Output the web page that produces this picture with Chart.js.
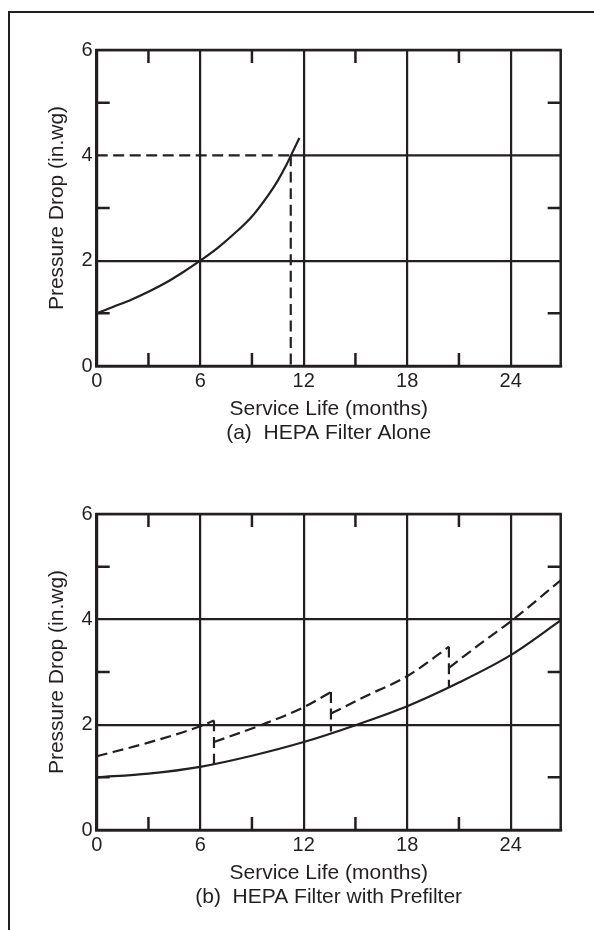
<!DOCTYPE html>
<html lang="en">
<head>
  <meta charset="UTF-8">
  <title>HEPA Filter Pressure Drop</title>
  <script src="https://cdn.jsdelivr.net/npm/chart.js"></script>
  <style>
    body {
      margin: 0;
      background: #fff;
      width: 594px;
      height: 930px;
      overflow: hidden;
      position: relative;
    }
    /* left and top edge of the page frame */
    .frame {
      position: absolute;
      left: 8px;
      top: 11px;
      width: 620px;
      height: 960px;
      border-left: 2.5px solid #231f20;
      border-top: 2px solid #231f20;
    }
    canvas {
      position: absolute;
      left: 0;
    }
    #chartA { top: 0; }
    #chartB { top: 464px; }
  </style>
</head>
<body>
<div class="frame"></div>
<canvas id="chartA" width="594" height="464"></canvas>
<canvas id="chartB" width="594" height="464"></canvas>

<script>
  // Axis ticks
  const monthTicks = [0, 6, 12, 18, 24];
  const dropTicks = [0, 2, 4, 6];
  const minorMonths = [3, 9, 15, 21];
  const minorDrops = [1, 3, 5];

  // (a) HEPA filter alone
  const aMonths = [0, 1, 2, 3, 4, 5, 6, 7, 8, 9, 10, 10.5, 11, 11.25, 11.75];
  const aDrop = [1.0, 1.13, 1.26, 1.41, 1.58, 1.78, 2.0, 2.24, 2.52, 2.84, 3.27, 3.52, 3.82, 3.99, 4.33];
  // change-out limit (dashed) and the rest of the 4 in.wg line
  const limitMonths = [0, 11.25];
  const limitDrop = [4, 4];
  const changeMonths = [11.25, 11.25];
  const changeDrop = [4, 0];
  const restMonths = [11.25, 26.9];
  const restDrop = [4, 4];

  // (b) HEPA filter with prefilter
  const hepaMonths = [0, 3, 6, 9, 12, 15, 18, 21, 24, 26.9];
  const hepaDrop = [1.0, 1.07, 1.2, 1.41, 1.67, 1.99, 2.35, 2.8, 3.32, 3.98];
  // total drop, one list per prefilter
  const pre1Months = [0, 3, 6, 6.8];
  const pre1Drop = [1.40, 1.66, 1.97, 2.08];
  const pre2Months = [6.8, 9.5, 12, 13.58];
  const pre2Drop = [1.67, 1.99, 2.33, 2.62];
  const pre3Months = [13.58, 15.65, 18, 20.42];
  const pre3Drop = [2.21, 2.55, 2.92, 3.48];
  const pre4Months = [20.42, 22.5, 24, 26.9];
  const pre4Drop = [3.08, 3.6, 3.96, 4.74];
  // prefilter change-outs
  const swapMonths = [6.8, 13.58, 20.42];
  const swapTop = [2.08, 2.62, 3.48];
  const swapBottom = [1.25, 1.87, 2.72];

  const ink = '#231f20';
  const dash = [11, 5.5];
  const fontFamily = "'Liberation Sans', Arial, Helvetica, sans-serif";

  function pts(xs, ys) {
    return xs.map((x, i) => ({ x: x, y: ys[i] }));
  }

  function line(xs, ys, dashed) {
    return {
      data: pts(xs, ys),
      borderColor: ink,
      borderWidth: 2.2,
      borderDash: dashed ? dash : [],
      pointRadius: 0,
      fill: false,
      cubicInterpolationMode: 'monotone'
    };
  }

  // box round the plot and the short inner tick marks
  const innerTicks = {
    id: 'innerTicks',
    afterDraw(chart) {
      const { ctx, chartArea: a, scales: { x, y } } = chart;
      const len = 13;
      ctx.save();
      ctx.strokeStyle = ink;
      ctx.lineWidth = 2.5;
      ctx.strokeRect(a.left, a.top, a.right - a.left, a.bottom - a.top);
      ctx.beginPath();
      minorMonths.forEach(m => {
        const px = x.getPixelForValue(m);
        ctx.moveTo(px, a.top); ctx.lineTo(px, a.top + len);
        ctx.moveTo(px, a.bottom); ctx.lineTo(px, a.bottom - len);
      });
      minorDrops.forEach(d => {
        const py = y.getPixelForValue(d);
        ctx.moveTo(a.left, py); ctx.lineTo(a.left + len, py);
        ctx.moveTo(a.right, py); ctx.lineTo(a.right - len, py);
      });
      ctx.stroke();
      ctx.restore();
    }
  };

  function makeChart(id, datasets, caption, hideY4) {
    return new Chart(document.getElementById(id), {
      type: 'line',
      data: { datasets: datasets },
      options: {
        responsive: false,
        animation: false,
        layout: { padding: { left: 0, top: 50, right: 33.3, bottom: 0 } },
        plugins: { legend: { display: false }, tooltip: { enabled: false } },
        scales: {
          x: {
            type: 'linear',
            min: 0,
            max: 26.9,
            afterBuildTicks: s => { s.ticks = monthTicks.map(v => ({ value: v })); },
            afterFit: s => { s.height = 98; },
            grid: { color: ink, lineWidth: 2.2, drawTicks: false },
            border: { color: ink, width: 2.5 },
            ticks: { color: ink, padding: 3, font: { family: fontFamily, size: 20 } },
            title: {
              display: true,
              text: ['Service Life (months)', caption],
              color: ink,
              padding: { top: 0, bottom: 19.7 },
              font: { family: fontFamily, size: 21, lineHeight: 1.1 }
            }
          },
          y: {
            min: 0,
            max: 6,
            afterBuildTicks: s => { s.ticks = dropTicks.map(v => ({ value: v })); },
            afterFit: s => { s.width = 96.7; },
            grid: {
              color: c => (hideY4 && c.tick && c.tick.value === 4) ? 'rgba(0,0,0,0)' : ink,
              lineWidth: 2.2,
              drawTicks: false
            },
            border: { color: ink, width: 2.5 },
            ticks: { color: ink, padding: 4, font: { family: fontFamily, size: 20 } },
            title: {
              display: true,
              text: 'Pressure Drop (in.wg)',
              color: ink,
              padding: { top: 44.4, bottom: 0 },
              font: { family: fontFamily, size: 21 }
            }
          }
        }
      },
      plugins: [innerTicks]
    });
  }

  makeChart('chartA', [
    line(aMonths, aDrop, false),
    line(limitMonths, limitDrop, true),
    line(changeMonths, changeDrop, true),
    line(restMonths, restDrop, false)
  ], '(a)  HEPA Filter Alone', true);

  const bSets = [
    line(hepaMonths, hepaDrop, false),
    line(pre1Months, pre1Drop, true),
    line(pre2Months, pre2Drop, true),
    line(pre3Months, pre3Drop, true),
    line(pre4Months, pre4Drop, true)
  ];
  swapMonths.forEach((m, i) => {
    bSets.push(line([m, m], [swapTop[i], swapBottom[i]], true));
  });
  makeChart('chartB', bSets, '(b)  HEPA Filter with Prefilter', false);
</script>
</body>
</html>
